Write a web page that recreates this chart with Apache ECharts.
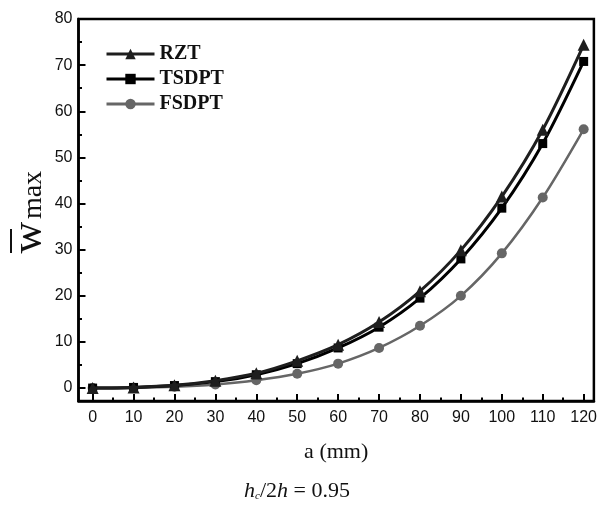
<!DOCTYPE html>
<html>
<head>
<meta charset="utf-8">
<script src="https://cdn.jsdelivr.net/npm/echarts@6/dist/echarts.min.js"></script>
<style>html,body{margin:0;padding:0;background:#fff;}#c{width:600px;height:507px;}</style>
</head>
<body>
<div id="c"></div>
<script>
var xValues = [0, 10, 20, 30, 40, 50, 60, 70, 80, 90, 100, 110, 120];
var rzt   = [0, 0.15, 0.6, 1.6, 3.2, 5.9, 9.4, 14.3, 21.0, 29.9, 41.5, 56.0, 74.4];
var tsdpt = [0, 0.14, 0.55, 1.4, 2.9, 5.3, 8.7, 13.2, 19.5, 28.0, 39.0, 53.0, 70.8];
var fsdpt = [0, 0.08, 0.3, 0.8, 1.7, 3.1, 5.3, 8.7, 13.5, 20.0, 29.2, 41.3, 56.1];
var xTicks = [0, 10, 20, 30, 40, 50, 60, 70, 80, 90, 100, 110, 120];
var xMinorTicks = [5, 15, 25, 35, 45, 55, 65, 75, 85, 95, 105, 115];
var yTicks = [0, 10, 20, 30, 40, 50, 60, 70, 80];
var yMinorTicks = [5, 15, 25, 35, 45, 55, 65, 75];
var seriesNames = ['RZT', 'TSDPT', 'FSDPT'];

function pairs(ys) { return xValues.map(function (x, i) { return [x, ys[i]]; }); }

var chart = echarts.init(document.getElementById('c'), null, {renderer: 'canvas'});
var labelFont = {fontFamily: 'Liberation Sans', fontSize: 16, color: '#111'};
var xMin = -3.45, xMax = 122.5, yMin = -2.8, yMax = 80;

chart.setOption({
  animation: false,
  backgroundColor: '#fff',
  grid: {left: 78.5, right: 2.5, top: 19, bottom: 106, show: true, borderColor: '#000', borderWidth: 2.5, backgroundColor: 'transparent'},
  legend: {
    orient: 'vertical', left: 100, top: 39, itemWidth: 48, itemHeight: 13, itemGap: 5,
    data: seriesNames,
    lineStyle: {width: 3},
    textStyle: {fontFamily: 'Liberation Serif', fontWeight: 'bold', fontSize: 20, color: '#111'}
  },
  xAxis: [{
    type: 'value', min: xMin, max: xMax,
    axisLine: {show: true, onZero: false, lineStyle: {color: '#000', width: 2.5}},
    axisTick: {show: true, inside: true, length: 7, lineStyle: {color: '#000', width: 2}, customValues: xTicks},
    axisLabel: Object.assign({customValues: xTicks, margin: 9}, labelFont),
    splitLine: {show: false},
    name: 'a (mm)', nameLocation: 'middle', nameGap: 40,
    nameTextStyle: {fontFamily: 'Liberation Serif', fontSize: 22, color: '#111'}
  }, {
    type: 'value', min: xMin, max: xMax, position: 'bottom',
    axisLine: {show: false, onZero: false},
    axisTick: {show: true, inside: true, length: 3.5, lineStyle: {color: '#000', width: 2}, customValues: xMinorTicks},
    axisLabel: {show: false},
    splitLine: {show: false}
  }],
  yAxis: [{
    type: 'value', min: yMin, max: yMax,
    axisLine: {show: true, onZero: false, lineStyle: {color: '#000', width: 2.5}},
    axisTick: {show: true, inside: true, length: 7, lineStyle: {color: '#000', width: 2}, customValues: yTicks},
    axisLabel: Object.assign({customValues: yTicks, margin: 6}, labelFont),
    splitLine: {show: false}
  }, {
    type: 'value', min: yMin, max: yMax, position: 'left',
    axisLine: {show: false, onZero: false},
    axisTick: {show: true, inside: true, length: 3.5, lineStyle: {color: '#000', width: 2}, customValues: yMinorTicks},
    axisLabel: {show: false},
    splitLine: {show: false}
  }],
  series: [{
    name: seriesNames[0], type: 'line', data: pairs(rzt), smooth: 0.3,
    symbol: 'triangle', symbolSize: 12,
    lineStyle: {color: '#1e1e1e', width: 3}, itemStyle: {color: '#1e1e1e'}, z: 4
  }, {
    name: seriesNames[1], type: 'line', data: pairs(tsdpt), smooth: 0.3,
    symbol: 'rect', symbolSize: 9,
    lineStyle: {color: '#000', width: 3}, itemStyle: {color: '#000'}, z: 3
  }, {
    name: seriesNames[2], type: 'line', data: pairs(fsdpt), smooth: 0.3,
    symbol: 'circle', symbolSize: 10,
    lineStyle: {color: '#666', width: 2.5}, itemStyle: {color: '#666'}, z: 2
  }],
  graphic: [{
    type: 'text', x: 29, y: 237.5, rotation: Math.PI / 2,
    style: {text: 'w', font: '44px "Liberation Serif"', fill: '#111', align: 'center', verticalAlign: 'middle'}
  }, {
    type: 'text', x: 34, y: 195, rotation: Math.PI / 2,
    style: {text: 'max', font: '28px "Liberation Serif"', fill: '#111', align: 'center', verticalAlign: 'middle'}
  }, {
    type: 'line', shape: {x1: 11, y1: 229, x2: 11, y2: 253},
    style: {stroke: '#111', lineWidth: 2}
  }, {
    type: 'text', x: 297, y: 490,
    style: {
      text: '{i|h}{s|c}{n|/2}{i|h}{n| = 0.95}',
      align: 'center', verticalAlign: 'middle',
      rich: {
        i: {fontFamily: 'Liberation Serif', fontStyle: 'italic', fontSize: 22, lineHeight: 24, verticalAlign: 'bottom', fill: '#111'},
        n: {fontFamily: 'Liberation Serif', fontSize: 22, lineHeight: 24, verticalAlign: 'bottom', fill: '#111'},
        s: {fontFamily: 'Liberation Serif', fontStyle: 'italic', fontSize: 11, lineHeight: 4, verticalAlign: 'bottom', fill: '#111'}
      }
    }
  }]
});
</script>
</body>
</html>
